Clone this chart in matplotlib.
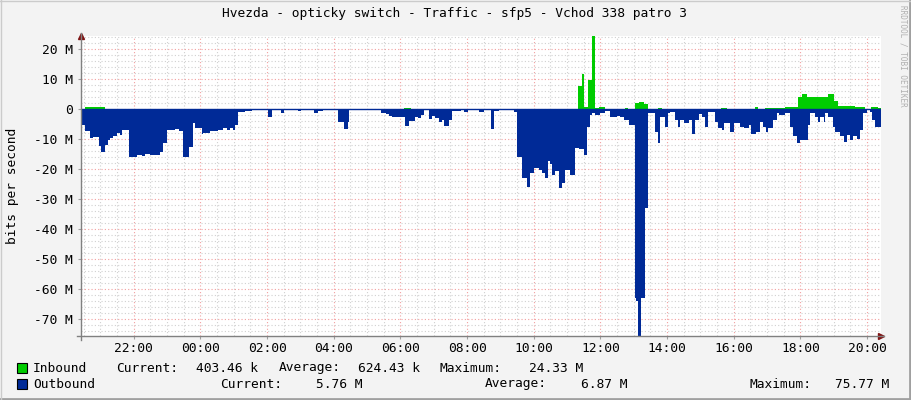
import matplotlib.pyplot as plt
from matplotlib.patches import Rectangle
from matplotlib.lines import Line2D

# minutes after graph start (20:25), values in Mbit/s
out_min = [0, 2, 7, 16, 22, 27, 33, 36, 43, 49, 52, 58, 64, 70, 73, 87, 101, 109, 115, 124,
           142, 148, 154, 169, 177, 183, 195, 201, 205, 217, 220, 232, 247, 256, 262, 268, 274, 277,
           283, 289, 296, 308, 336, 343, 360, 365, 390, 396, 420, 426, 435, 462, 474, 480, 483,
           540, 549, 555, 560, 584, 590, 602, 606, 612, 618, 626, 632, 638, 644, 650, 654, 662,
           668, 684, 690, 696, 717, 726, 738, 744, 752, 780, 785, 793, 803, 808, 815, 824, 830,
           836, 841, 845, 848, 854, 860, 865, 871, 881, 889, 896, 905, 911, 917, 920, 926, 935,
           944, 953, 965, 971, 977, 986, 997, 999, 1003, 1008, 1015, 1021, 1033, 1039, 1043, 1051,
           1057, 1061, 1070, 1075, 1079, 1085, 1094, 1099, 1105, 1112, 1117, 1124, 1128, 1142,
           1146, 1153, 1158, 1169, 1175, 1187, 1193, 1202, 1206, 1215, 1223, 1228, 1233, 1237,
           1246, 1252, 1257, 1267, 1276, 1282, 1288, 1294, 1308, 1312, 1321, 1327, 1330, 1338,
           1340, 1345, 1354, 1358, 1366, 1374, 1378, 1384, 1390, 1396, 1402, 1408, 1414, 1420,
           1423, 1429]
out_val = [-6.7, -5.3, -7.5, -9.7, -9.5, -9.3, -12.5, -14.3, -12.0, -10.5, -9.7, -9.0, -8.0, -8.8,
           -7.0, -15.9, -15.5, -15.7, -15.2, -15.3, -14.5, -11.4, -7.0, -6.8, -7.5, -15.9, -12.6,
           -4.8, -6.4, -8.4, -8.0, -7.5, -7.0, -6.4, -7.0, -6.4, -7.0, -5.3, -1.0, -0.9, -0.6,
           -0.2, -2.6, -0.2, -1.2, -0.2, -0.6, -0.2, -1.4, -0.7, -0.2, -4.3, -6.7, -4.3, -0.2,
           -1.4, -1.8, -2.2, -2.6, -5.6, -3.9, -2.8, -3.1, -2.0, -0.4, -3.4, -2.3, -3.1, -4.4,
           -3.7, -5.6, -3.7, -0.7, -0.4, -0.9, -0.4, -0.9, -0.4, -6.7, -0.7, -0.4, -0.9, -16.2,
           -23.0, -26.0, -21.4, -19.8, -20.3, -21.4, -23.0, -17.5, -18.5, -22.2, -20.6, -26.5,
           -24.8, -20.3, -22.2, -13.1, -13.4, -15.3, -5.9, -2.0, -1.4, -2.0, -1.2, -0.6, -2.8,
           -2.3, -2.8, -3.7, -5.3, -63.0, -64.0, -75.77, -63.0, -33.0, -1.2, -7.6, -11.4, -2.6,
           -5.9, -1.4, -0.9, -3.7, -5.9, -3.7, -4.6, -3.7, -8.3, -3.7, -1.7, -2.8, -5.9, -0.9,
           -4.2, -6.4, -7.0, -4.8, -7.6, -4.8, -5.9, -6.4, -5.3, -8.4, -7.6, -4.2, -5.9, -7.6,
           -6.4, -3.7, -1.4, -2.0, -1.4, -5.9, -9.2, -11.4, -10.3, -5.3, -1.4, -2.6, -4.2, -2.6,
           -4.2, -1.4, -2.6, -5.9, -7.6, -9.2, -10.9, -8.7, -10.3, -9.0, -10.1, -7.0, -1.4, -0.3,
           -0.9, -3.7, -5.9]
in_min = [0, 7, 43, 582, 594, 895, 901, 906, 912, 919, 925, 932, 944, 979, 985, 997, 1004, 1013,
          1021, 1039, 1045, 1152, 1163, 1214, 1218, 1231, 1267, 1279, 1291, 1297, 1306, 1344,
          1356, 1362, 1393, 1411, 1422, 1434]
in_val = [0, 0.7, 0, 0.3, 0, 7.7, 11.7, 0.5, 9.7, 24.33, 0.3, 0.6, 0, 0.4, 0, 2.0, 2.4, 1.7,
          0, 0.4, 0, 0.3, 0, 0.6, 0, 0.4, 0.5, 0.7, 4.1, 4.9, 3.9, 5.0, 2.8, 1.0, 0.5, 0,
          0.6, 0.4]
end_min = 1440

hour_labels = ['22:00', '00:00', '02:00', '04:00', '06:00', '08:00',
               '10:00', '12:00', '14:00', '16:00', '18:00', '20:00']
first_tick = 95  # 22:00

legend_rows = [
    ('Inbound', '#00CC00', [('Current:', 116), ('403.46 k', 196), ('Average:', 279),
                            ('624.43 k', 358), ('Maximum:', 440), ('24.33 M', 529)]),
    ('Outbound', '#002A97', [('Current:', 220), ('5.76 M', 316), ('Average:', 485),
                             ('6.87 M', 581), ('Maximum:', 750), ('75.77 M', 835)]),
]

W, H = 911, 400
mono = 'DejaVu Sans Mono'
fs = 9.3

fig = plt.figure(figsize=(W / 100, H / 100), dpi=100, facecolor='#F3F3F3')
ax = fig.add_axes([81 / W, 1 - 336 / H, 800 / W, 300 / H])
ax.set_facecolor('white')

# grid
for m in range(5, end_min, 30):
    major = (m - first_tick) % 120 == 0
    ax.axvline(m, color='#F2A0A0' if major else '#D0D0D0', lw=0.8,
               ls=(0, (1, 2)), zorder=1)
for v in range(-74, 25, 2):
    major = v % 10 == 0
    ax.axhline(v, color='#F2A0A0' if major else '#D0D0D0', lw=0.8,
               ls=(0, (1, 2)), zorder=1)

ox = out_min + [end_min]
oy = out_val + [out_val[-1]]
ix = in_min + [end_min]
iy = in_val + [in_val[-1]]
ax.fill_between(ox, 0, oy, step='post', color='#002A97', lw=0, zorder=2)
ax.fill_between(ix, 0, iy, step='post', color='#00CC00', lw=0, zorder=2)
ax.axhline(0, color='#002A97', lw=1.0, zorder=3)

ax.set_xlim(0, end_min)
ax.set_ylim(-75.77, 24.33)

for s in ax.spines.values():
    s.set_visible(False)

ax.set_xticks([first_tick + 120 * i for i in range(len(hour_labels))])
ax.set_xticklabels(hour_labels, fontfamily=mono, fontsize=fs)
ax.set_yticks(range(-70, 21, 10))
ax.set_yticklabels([('%d M' % v) if v != 0 else '0' for v in range(-70, 21, 10)],
                   fontfamily=mono, fontsize=fs)
ax.tick_params(axis='both', length=2, width=0.8, color='#A0A0A0', pad=4)
ax.tick_params(axis='x', pad=2)
ax.set_ylabel('bits per second', fontfamily=mono, fontsize=fs)
ax.yaxis.set_label_coords(-62 / 800, 0.5)

# axis lines with arrows
fig.add_artist(Line2D([81 / W, 81 / W], [1 - 340 / H, 1 - 33 / H], color='#808080', lw=1))
fig.add_artist(Line2D([77 / W, 884 / W], [1 - 336 / H, 1 - 336 / H], color='#808080', lw=1))
ax.plot([0], [1], marker='^', ms=5, color='#7F1515', transform=ax.transAxes,
        clip_on=False, zorder=5)
ax.plot([1], [0], marker='>', ms=5, color='#7F1515', transform=ax.transAxes,
        clip_on=False, zorder=5)

fig.text(455 / W, 1 - 13 / H, 'Hvezda - opticky switch - Traffic - sfp5 - Vchod 338 patro 3',
         ha='center', va='center', fontfamily=mono, fontsize=fs)
fig.text(903 / W, 1 - 5 / H, 'RRDTOOL / TOBI OETIKER', rotation=270, ha='center', va='top',
         fontfamily=mono, fontsize=5.5, color='#B0B0B0')

for row, (name, col, items) in enumerate(legend_rows):
    y = 368 + 16 * row
    fig.add_artist(Rectangle((17 / W, 1 - (y + 5) / H), 10 / W, 10 / H,
                             transform=fig.transFigure, facecolor=col,
                             edgecolor='black', lw=0.8))
    fig.text(33 / W, 1 - y / H, name, ha='left', va='center', fontfamily=mono, fontsize=fs)
    for txt, x in items:
        fig.text(x / W, 1 - y / H, txt, ha='left', va='center', fontfamily=mono, fontsize=fs)

# frame
fig.add_artist(Line2D([0, 1], [1 / H, 1 / H], color='#A0A0A0', lw=2))
fig.add_artist(Line2D([1 - 1 / W, 1 - 1 / W], [0, 1], color='#A0A0A0', lw=2))
fig.add_artist(Line2D([0, 1], [1 - 0.5 / H, 1 - 0.5 / H], color='#CBCBCB', lw=1))
fig.add_artist(Line2D([0.5 / W, 0.5 / W], [0, 1], color='#CBCBCB', lw=1))

fig.savefig('out.png', dpi=100, facecolor=fig.get_facecolor())
